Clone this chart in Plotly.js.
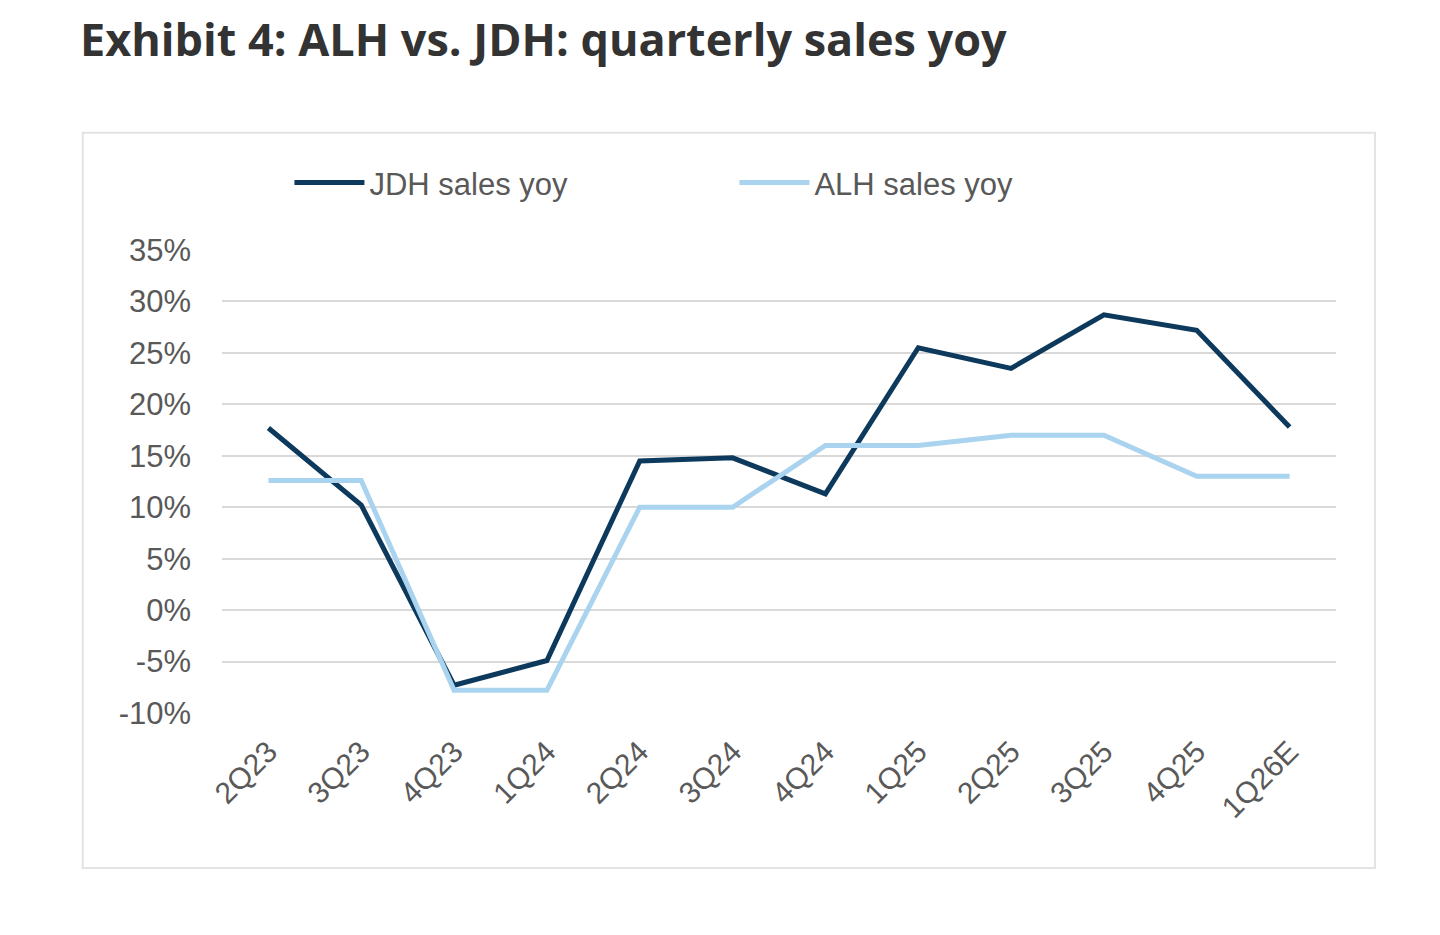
<!DOCTYPE html>
<html>
<head>
<meta charset="utf-8">
<script src="https://cdn.plot.ly/plotly-3.0.1.min.js"></script>
<style>body{margin:0;background:#fff}#chart{width:1440px;height:935px}</style>
</head>
<body>
<div id="chart"></div>
<script>
var quarters = ['2Q23','3Q23','4Q23','1Q24','2Q24','3Q24','4Q24','1Q25','2Q25','3Q25','4Q25','1Q26E'];
var jdhYoy = [17.7, 10.2, -7.3, -4.9, 14.5, 14.8, 11.3, 25.5, 23.5, 28.7, 27.2, 17.8];
var alhYoy = [12.6, 12.6, -7.8, -7.8, 10.0, 10.0, 16.0, 16.0, 17.0, 17.0, 13.0, 13.0];
var yTicks = [-10, -5, 0, 5, 10, 15, 20, 25, 30, 35];

var data = [
  {
    x: quarters, y: jdhYoy, mode: 'lines', type: 'scatter', name: 'JDH sales yoy',
    line: {color: '#0d3a5c', width: 5}
  },
  {
    x: quarters, y: alhYoy, mode: 'lines', type: 'scatter', name: 'ALH sales yoy',
    line: {color: '#a9d3ee', width: 5}
  }
];

var layout = {
  width: 1440, height: 935,
  margin: {l: 222, r: 104, t: 250, b: 222},
  paper_bgcolor: '#fff', plot_bgcolor: '#fff',
  font: {family: 'Liberation Sans, Arial, sans-serif', color: '#595959', size: 31},
  title: {
    text: 'Exhibit 4: ALH vs. JDH: quarterly sales yoy',
    x: 80 / 1440, xanchor: 'left', y: 0.957, yanchor: 'middle',
    font: {family: 'Open Sans, sans-serif', size: 45, color: '#333', weight: 700}
  },
  showlegend: true,
  legend: {
    orientation: 'h', x: 0.46, xanchor: 'center', y: 1.145, yanchor: 'middle',
    font: {size: 31, color: '#595959'}, entrywidth: 360, itemwidth: 70
  },
  xaxis: {
    type: 'category', range: [-0.5, 11.5], tickangle: -45, showgrid: false, zeroline: false,
    showline: false, ticks: '', ticklabelstandoff: 14, tickfont: {size: 30, color: '#595959'}
  },
  yaxis: {
    range: [-10, 35], tickvals: yTicks, ticktext: yTicks.map(function(v){return v + '%';}),
    showgrid: true, gridcolor: '#d9d9d9', gridwidth: 1.5, zeroline: false,
    ticks: '', ticklen: 0, ticklabelstandoff: 30, tickfont: {size: 31, color: '#595959'}
  },
  shapes: [{
    type: 'rect', xref: 'paper', yref: 'paper',
    x0: -0.125, x1: 1.035, y0: -0.335, y1: 1.253,
    line: {color: '#e3e3e3', width: 2}, fillcolor: 'rgba(0,0,0,0)', layer: 'below'
  }]
};

Plotly.newPlot('chart', data, layout, {displayModeBar: false});
</script>
</body>
</html>
